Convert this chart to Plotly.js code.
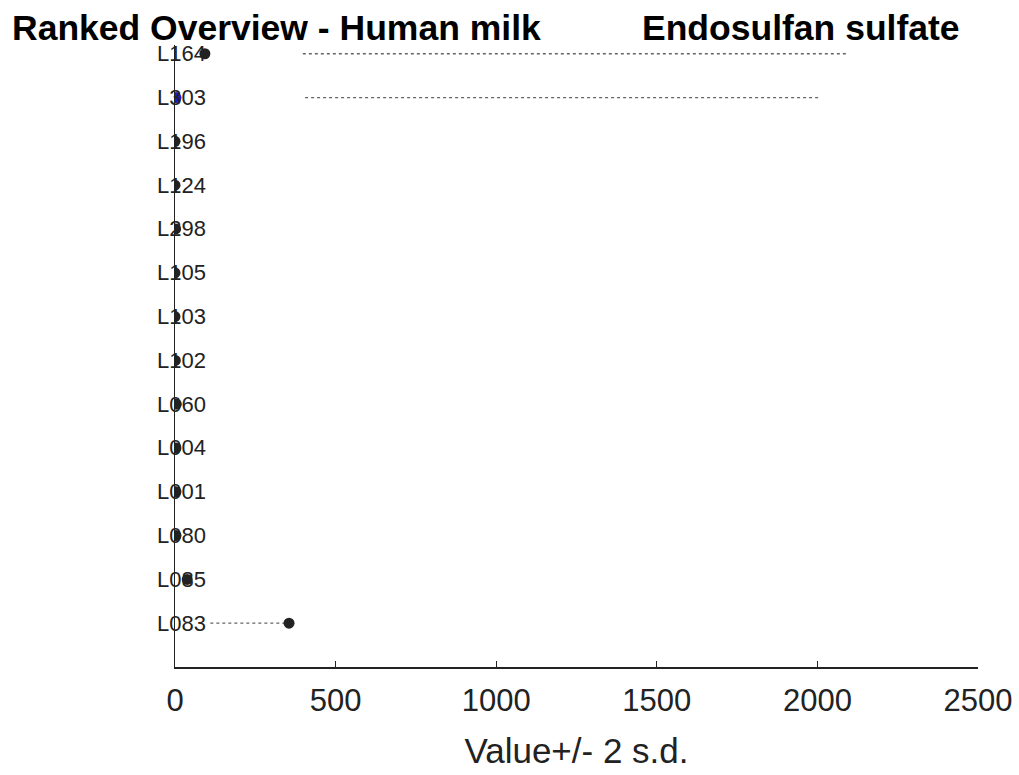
<!DOCTYPE html>
<html>
<head>
<meta charset="utf-8">
<script src="https://cdn.plot.ly/plotly-3.0.1.min.js"></script>
<style>html,body{margin:0;padding:0;background:#fff;}#chart{width:1019px;height:775px;}</style>
</head>
<body>
<div id="chart"></div>
<script>
// Data (top to bottom)
const labs = ["L164","L303","L196","L124","L298","L105","L103","L102","L060","L004","L001","L080","L085","L083"];
const values = [93, 3, 0, 0, 2, 0, 0, 1, 4, 3, 3, 3, 38, 355];
const lowVals = [398, 405, null, null, null, null, null, null, null, null, null, null, null, 110];
const highVals = [2095, 2008, null, null, null, null, null, null, null, null, null, null, null, 355];
const highlight = "L303";
const xTicks = [0, 500, 1000, 1500, 2000, 2500];
const titleLeft = "Ranked Overview - Human milk";
const titleRight = "Endosulfan sulfate";
const xTitle = "Value+/- 2 s.d.";

const rows = labs.map((_, i) => i + 1);
const FONT = "Liberation Sans, Arial, Helvetica, sans-serif";

// dotted interval lines
const ix = [], iy = [];
rows.forEach((r, i) => {
  if (lowVals[i] !== null) { ix.push(lowVals[i], highVals[i], null); iy.push(r, r, null); }
});

const traces = [
  {x: ix, y: iy, mode: "lines", type: "scatter", hoverinfo: "skip",
   line: {color: "#666", width: 1.3, dash: "dot"}, showlegend: false},
  {x: values, y: rows, mode: "markers", type: "scatter",
   marker: {size: 11, color: labs.map(l => l === highlight ? "#1a1acc" : "#222"),
            line: {width: 0}}, showlegend: false}
];

const annotations = labs.map((l, i) => ({
  x: 0, y: rows[i], xref: "x", yref: "y", text: l, showarrow: false,
  xanchor: "left", yanchor: "middle", xshift: -20,
  font: {family: FONT, size: 22, color: "#222"}
}));
annotations.push({
  xref: "paper", yref: "paper", x: (640 - 175) / 803, y: (775 - 108 - 28) / (775 - 108 - 45), text: "<b>" + titleRight + "</b>",
  showarrow: false, xanchor: "left", yanchor: "middle",
  font: {family: FONT, size: 35.5, color: "#000"}
});

const layout = {
  width: 1019, height: 775,
  margin: {l: 175, r: 41, t: 45, b: 108, pad: 0},
  paper_bgcolor: "#fff", plot_bgcolor: "#fff",
  title: {text: "<b>" + titleLeft + "</b>", x: 12 / 1019, xanchor: "left", xref: "container",
          y: 1 - 28 / 775, yanchor: "middle", yref: "container",
          font: {family: FONT, size: 35.5, color: "#000"}},
  xaxis: {range: [0, 2500], tickvals: xTicks, ticktext: xTicks.map(String),
          ticks: "inside", ticklen: 6, tickcolor: "#222", tickwidth: 1.3,
          showline: true, linecolor: "#222", linewidth: 1.5, showgrid: false, zeroline: false,
          ticklabelstandoff: 5,
          tickfont: {family: FONT, size: 31, color: "#222"},
          title: {text: xTitle, font: {family: FONT, size: 35, color: "#222"}, standoff: 22}},
  yaxis: {range: [15, 0.8], showline: true, linecolor: "#222", linewidth: 1.5,
          showticklabels: false, ticks: "", showgrid: false, zeroline: false},
  annotations: annotations
};
Plotly.newPlot("chart", traces, layout, {displayModeBar: false, staticPlot: true});
</script>
</body>
</html>
